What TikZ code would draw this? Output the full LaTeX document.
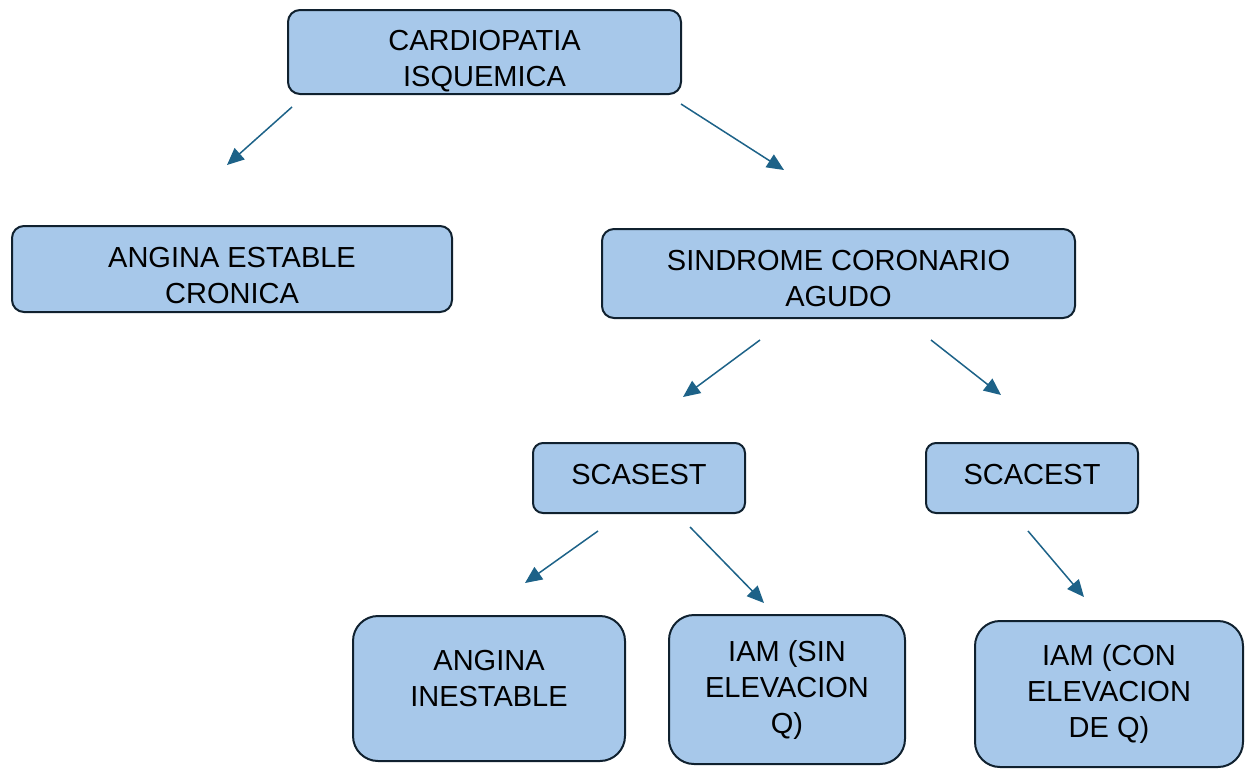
\documentclass[tikz,border=0pt]{standalone}
\usepackage{fontspec}
\setmainfont{Liberation Sans}
\usetikzlibrary{arrows.meta,positioning}
\definecolor{boxfill}{HTML}{A7C8EA}
\definecolor{boxline}{HTML}{10212F}
\definecolor{arrowblue}{HTML}{1D6288}
\tikzset{
    %Define standard arrow tip
    >={Triangle[length=17pt,width=15pt]},
    %Define style for boxes
    caja/.style={
           rectangle,
           rounded corners=12pt,
           draw=boxline,
           line width=2pt,
           fill=boxfill,
           inner sep=0pt},
    %Define style for box texts
    texto/.style={
           align=center,
           inner sep=0pt,
           font=\fontsize{29}{36}\selectfont},
    % Define arrow style
    pil/.style={
           ->,
           draw=arrowblue,
           line width=1.5pt}
}
\begin{document}
\begin{tikzpicture}[x=1pt,y=1pt]
	\useasboundingbox (0,0) rectangle (1252,-769);

	% Top
	\node[caja, minimum width=393pt, minimum height=84pt,
	      label={[texto, yshift=-9pt]center:CARDIOPATIA\\ISQUEMICA}](cardio) at (484.5,-52){};

	% Second row
	\node[caja, minimum width=440pt, minimum height=86pt,
	      label={[texto, yshift=-7pt]center:ANGINA ESTABLE\\CRONICA}](estable) at (232,-269){};
	\node[caja, minimum width=473pt, minimum height=89pt,
	      label={[texto, yshift=-5pt]center:SINDROME CORONARIO\\AGUDO}](sca) at (838.5,-273.5){};

	% Third row
	\node[caja, rounded corners=10pt, minimum width=212pt, minimum height=70pt,
	      label={[texto, yshift=3pt]center:SCASEST}](scasest) at (639,-478){};
	\node[caja, rounded corners=10pt, minimum width=212pt, minimum height=70pt, right=179pt of scasest,
	      label={[texto, yshift=3pt]center:SCACEST}](scacest){};

	% Bottom row
	\node[caja, rounded corners=25pt, minimum width=272pt, minimum height=145pt,
	      label={[texto, yshift=10pt]center:ANGINA\\INESTABLE}](inestable) at (489,-688.5){};
	\node[caja, rounded corners=25pt, minimum width=236pt, minimum height=149pt,
	      label={[texto]center:IAM (SIN\\ELEVACION\\Q)}](iamsin) at (787,-689.5){};
	\node[caja, rounded corners=25pt, minimum width=268pt, minimum height=146pt,
	      label={[texto]center:IAM (CON\\ELEVACION\\DE Q)}](iamcon) at (1109,-694){};

	% Arrow ends
	\coordinate (a1) at (292,-107);  \coordinate (b1) at (227,-165);
	\coordinate (a2) at (681,-104);  \coordinate (b2) at (784,-170);
	\coordinate (a3) at (760,-340);  \coordinate (b3) at (683,-397);
	\coordinate (a4) at (931,-340);  \coordinate (b4) at (1001,-395);
	\coordinate (a5) at (598,-531);  \coordinate (b5) at (525,-583);
	\coordinate (a6) at (690,-527);  \coordinate (b6) at (764,-603);
	\coordinate (a7) at (1028,-531); \coordinate (b7) at (1084,-597);

	\foreach \i in {1,...,7}
	    \draw[pil] (a\i) -- (b\i);

\end{tikzpicture}
\end{document}
